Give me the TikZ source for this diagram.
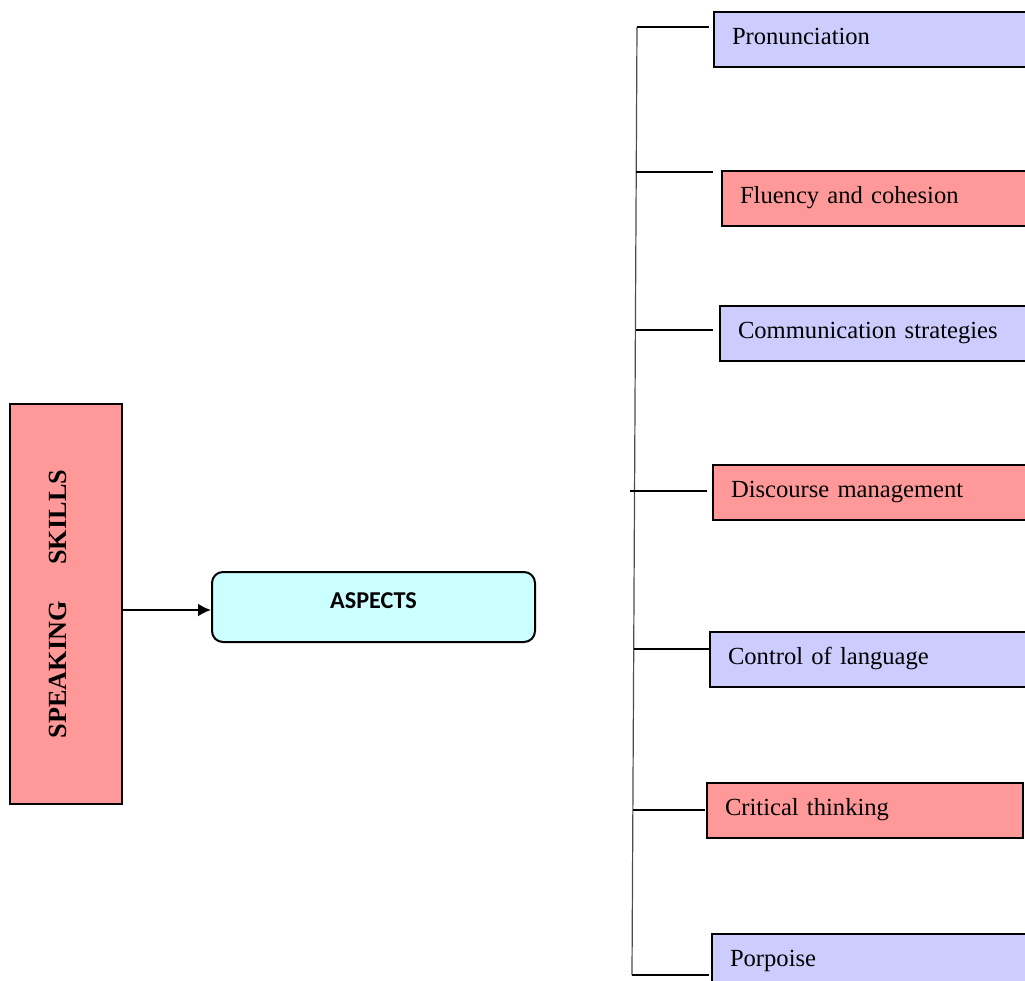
\documentclass[tikz,border=0pt]{standalone}
\usepackage{fontspec}
\usetikzlibrary{arrows.meta}
\setmainfont{Liberation Serif}
\newfontfamily\calibrifont{Carlito}
\definecolor{bluefill}{HTML}{CCCCFF}
\definecolor{redfill}{HTML}{FF9999}
\definecolor{cyanfill}{HTML}{CCFFFF}
\tikzset{
  aspectbox/.style={draw, line width=1pt, anchor=north west, outer sep=0pt,
    minimum width=158pt, minimum height=27.5pt, text width=140pt, inner xsep=9pt,
    align=left, text height=9pt, text depth=4.5pt, font=\fontsize{12.3}{14}\selectfont},
  branch/.style={line width=1pt},
  trunk/.style={line width=0.6pt, black!70},
}
\begin{document}
\begin{tikzpicture}[x=0.5pt,y=-0.5pt]
            \clip (0,0) rectangle (1025,981);
            % left side
            \node[draw, line width=1pt, fill=redfill, rotate=90, minimum width=200pt, minimum height=56pt,
                  text height=10pt, text depth=9pt, font=\fontsize{13.1}{15}\selectfont\bfseries]
                  (skills) at (66,604) {SPEAKING\hspace{1.4em}SKILLS};
            \node[draw, line width=1pt, fill=cyanfill, rounded corners=5.5pt, minimum width=161.5pt, minimum height=35pt,
                  text height=12pt, text depth=11pt, font=\calibrifont\bfseries\fontsize{12.1}{14}\selectfont]
                  (aspects) at (373.5,607) {ASPECTS};
            \coordinate (arrowend) at ([yshift=-1.5pt]aspects.west);
            \draw[line width=1pt,-{Latex[length=6.5pt,width=6.5pt]}] (skills.south |- arrowend) -- (arrowend);
            % right side
            \node[aspectbox, fill=bluefill] (pron) at (714,12) {Pronunciation};
            \node[aspectbox, fill=redfill] (fluency) at (722,171) {Fluency and cohesion};
            \node[aspectbox, fill=bluefill] (comm) at (720,306) {Communication strategies};
            \node[aspectbox, fill=redfill] (discourse) at (713,465) {Discourse management};
            \node[aspectbox, fill=bluefill] (control) at (710,632) {Control of language};
            \node[aspectbox, fill=redfill] (critical) at (707,783) {Critical thinking};
            \node[aspectbox, fill=bluefill] (purpose) at (712,934) {Porpoise};
            \coordinate (top) at (637,27);
            \coordinate (bottom) at (632,975);
            \coordinate (b2) at (636,172);
            \coordinate (b3) at (636,330);
            \coordinate (b4) at (630,491);
            \coordinate (b5) at (634,649);
            \coordinate (b6) at (633,810);
            \draw[trunk] (top) -- (bottom);
            \draw[branch,shorten >=2.5pt] (top) -- (top -| pron.west);
            \draw[branch,shorten >=4.5pt] (b2) -- (b2 -| fluency.west);
            \draw[branch,shorten >=3.5pt] (b3) -- (b3 -| comm.west);
            \draw[branch,shorten >=3pt] (b4) -- (b4 -| discourse.west);
            \draw[branch] (b5) -- (b5 -| control.west);
            \draw[branch,shorten >=1pt] (b6) -- (b6 -| critical.west);
            \draw[branch,shorten >=1.5pt] (bottom) -- (bottom -| purpose.west);
        \end{tikzpicture}
\end{document}
